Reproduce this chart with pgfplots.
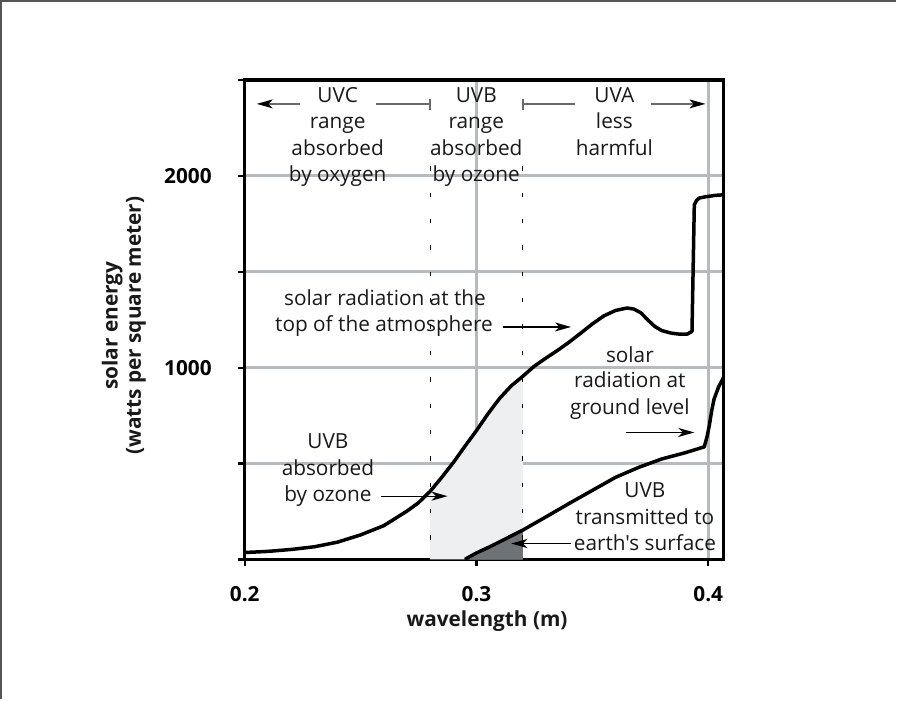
\documentclass[border=0pt]{standalone}
\usepackage{fontspec}
\setmainfont{Open Sans}[Ligatures=TeXOff]
\usepackage{pgfplots}
\usepackage{pgfplotstable}
\pgfplotsset{compat=1.18}
\usepgfplotslibrary{fillbetween}
\usetikzlibrary{arrows.meta}

\definecolor{gridgray}{HTML}{B5BBC1}
\definecolor{lightshade}{HTML}{EEEFF1}
\definecolor{darkshade}{HTML}{6E7378}
\definecolor{framegray}{HTML}{555555}
\definecolor{rowgray}{HTML}{6A6A6A}

% solar radiation at the top of the atmosphere
\pgfplotstableread{
x       y
0.2000  36
0.2100  42
0.2200  52
0.2300  66
0.2400  90
0.2500  128
0.2600  176
0.2700  252
0.2750  296
0.2800  355
0.2850  428
0.2900  505
0.2950  590
0.3000  672
0.3050  760
0.3100  840
0.3150  905
0.3200  955
0.3250  1008
0.3300  1050
0.3350  1090
0.3400  1133
0.3450  1180
0.3500  1228
0.3550  1270
0.3600  1298
0.3650  1311
0.3680  1305
0.3710  1285
0.3740  1248
0.3770  1214
0.3800  1193
0.3840  1180
0.3880  1174
0.3910  1175
0.3930  1189
0.3940  1849
0.3950  1872
0.3961  1884
0.3990  1891
0.4030  1898
0.4065  1901
}\topcurve

% solar radiation at ground level
\pgfplotstableread{
x       y
0.2950  0
0.2970  14
0.3000  34
0.3050  62
0.3100  92
0.3200  153
0.3300  222
0.3400  292
0.3500  360
0.3600  428
0.3700  480
0.3800  524
0.3900  556
0.3983  587
0.3995  640
0.4004  694
0.4015  775
0.4025  835
0.4045  900
0.4065  946
}\groundcurve

\newcommand{\fs}{\fontsize{10.4}{12}\selectfont}

\begin{document}
\begin{tikzpicture}[
  txt/.style={font=\fs, anchor=base, inner sep=0pt, text=black!90},
  ann/.style={-{Stealth[length=8pt,width=4.5pt,inset=2.2pt]}, line width=0.6pt, black},
]
\path (-122.5pt,-70pt) rectangle (326pt,280pt);
\draw[framegray, line width=0.9pt] (-122pt,-70pt) -- (-122pt,279.55pt) -- (326pt,279.55pt);

\begin{axis}[
  at={(0pt,0pt)}, anchor=south west,
  scale only axis, width=239.5pt, height=240pt,
  xmin=0.2, xmax=0.4065, ymin=0, ymax=2500,
  axis lines=left,
  xtick={0.2}, xticklabels={0.2},
  extra x ticks={0.3,0.4}, extra x tick labels={0.3,0.4},
  ytick={0,2500}, yticklabels={,},
  extra y ticks={500,1000,1500,2000}, extra y tick labels={,1000,,2000},
  extra tick style={grid=major},
  tick align=outside, major tick length=3.5pt,
  tick style={black, line width=1.1pt},
  major grid style={gridgray, line width=1.4pt},
  axis line style={black, line width=1.5pt, -},
  xticklabel style={font=\fs\bfseries, anchor=base, inner sep=0pt, yshift=-17.5pt},
  yticklabel style={font=\fs\bfseries, anchor=east, inner sep=0pt, xshift=-12.85pt},
  clip=false,
]
% dashed band borders
\draw[black, line width=0.6pt, dash pattern=on 2.2pt off 11pt] (axis cs:0.28,2050) -- (axis cs:0.28,0);
\draw[black, line width=0.6pt, dash pattern=on 2.2pt off 11pt] (axis cs:0.32,2050) -- (axis cs:0.32,0);

\addplot[name path=top, draw=none, forget plot] table[x=x, y=y] {\topcurve};
\addplot[name path=ground, draw=none, forget plot] table[x=x, y=y] {\groundcurve};
\addplot[name path=base, draw=none, forget plot] coordinates {(0.2,0) (0.4065,0)};

\addplot[lightshade, forget plot] fill between[of=top and base, soft clip={domain=0.28:0.32}];
\addplot[darkshade, forget plot] fill between[of=ground and base, soft clip={domain=0.28:0.32}];

\addplot[black, line width=1.75pt, line join=round, mark=none] table[x=x, y=y] {\topcurve};
\addplot[black, line width=1.75pt, line join=round, mark=none] table[x=x, y=y] {\groundcurve};

% top row of ranges
\draw[rowgray, line width=0.7pt, -{Stealth[length=8pt,width=4.5pt,inset=2.2pt,black]}] (axis cs:0.2237,2375) -- (axis cs:0.2052,2375);
\draw[rowgray, line width=0.7pt] (axis cs:0.2567,2375) -- (axis cs:0.28,2375);
\draw[rowgray, line width=0.7pt] (axis cs:0.28,2341) -- (axis cs:0.28,2398);
\draw[rowgray, line width=0.7pt] (axis cs:0.32,2341) -- (axis cs:0.32,2398);
\draw[rowgray, line width=0.7pt] (axis cs:0.32,2375) -- (axis cs:0.3424,2375);
\draw[rowgray, line width=0.7pt, -{Stealth[length=8pt,width=4.5pt,inset=2.2pt,black]}] (axis cs:0.3751,2375) -- (axis cs:0.3988,2375);

\node[txt] at (axis cs:0.2401,2384) {UVC};
\node[txt] at (axis cs:0.2401,2246) {range};
\node[txt] at (axis cs:0.2401,2107) {absorbed};
\node[txt] at (axis cs:0.2401,1969) {by oxygen};

\node[txt] at (axis cs:0.2999,2384) {UVB};
\node[txt] at (axis cs:0.2999,2246) {range};
\node[txt] at (axis cs:0.2999,2107) {absorbed};
\node[txt] at (axis cs:0.2999,1969) {by ozone};

\node[txt] at (axis cs:0.3595,2384) {UVA};
\node[txt] at (axis cs:0.3595,2246) {less};
\node[txt] at (axis cs:0.3595,2107) {harmful};

% annotations
\node[txt] at (axis cs:0.2605,1324) {solar radiation at the};
\node[txt] at (axis cs:0.2601,1189) {top of the atmosphere};
\draw[ann] (axis cs:0.3113,1212) -- (axis cs:0.3408,1212);

\node[txt] at (axis cs:0.3662,1028) {solar};
\node[txt] at (axis cs:0.3662,894) {radiation at};
\node[txt] at (axis cs:0.3662,755) {ground level};
\draw[ann] (axis cs:0.3645,662) -- (axis cs:0.3940,662);

\node[txt] at (axis cs:0.2359,578) {UVB};
\node[txt] at (axis cs:0.2359,439) {absorbed};
\node[txt] at (axis cs:0.2359,300) {by ozone};
\draw[ann] (axis cs:0.2586,330) -- (axis cs:0.2875,330);

\node[txt] at (axis cs:0.3727,323) {UVB};
\node[txt] at (axis cs:0.3727,184) {transmitted to};
\node[txt] at (axis cs:0.3727,49) {earth's surface};
\draw[ann] (axis cs:0.3410,83) -- (axis cs:0.3150,83);
\end{axis}

% top and right sides of the plot frame
\draw[black, line width=1.6pt, line cap=rect] (0pt,240pt) -- (239.5pt,240pt);
\draw[black, line width=1.6pt, line cap=rect] (239.5pt,240pt) -- (239.5pt,0pt);

\node[font=\fontsize{10.4}{11.7}\selectfont\bfseries, rotate=90, align=center, text=black!90] at (-60.5pt,117pt) {solar energy\\(watts per square meter)};
\node[font=\fs\bfseries, anchor=base, inner sep=0pt, text=black!90] at (121.25pt,-33.5pt) {wavelength (m)};
\end{tikzpicture}
\end{document}
